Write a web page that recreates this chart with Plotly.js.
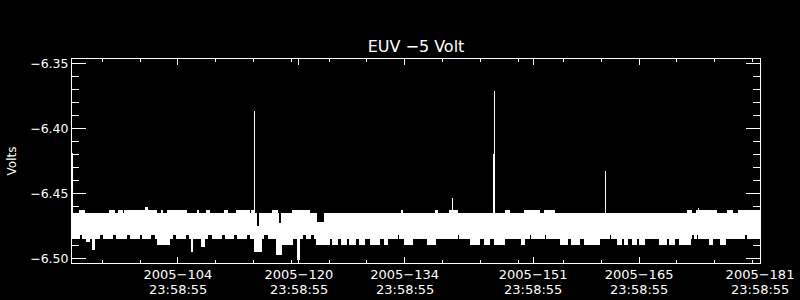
<!DOCTYPE html>
<html><head><meta charset="utf-8">
<script src="https://cdn.plot.ly/plotly-3.0.1.min.js"></script>
<style>html,body{margin:0;padding:0;background:#000;}#chart{width:800px;height:300px;}
#chart .scatterlayer path{shape-rendering:crispEdges;}</style>
</head><body><div id="chart"></div>
<script>
// ---- data (day-of-year 2005, fractional; volts) ----
const chartTitle = 'EUV \u22125 Volt';
const yTitle = 'Volts';
const xRange = ['2005-03-31 23:58:55', '2005-06-30 23:58:55'];
const xTickDates = ['2005-04-14 23:58:55', '2005-04-30 23:58:55', '2005-05-14 23:58:55',
                    '2005-05-31 23:58:55', '2005-06-14 23:58:55', '2005-06-30 23:58:55'];
const xTickDayText = ['2005\u2212104', '2005\u2212120', '2005\u2212134', '2005\u2212151', '2005\u2212165', '2005\u2212181'];
const xTickTimeText = ['23:58:55', '23:58:55', '23:58:55', '23:58:55', '23:58:55', '23:58:55'];
const xMinorDates = ['2005-04-05', '2005-04-10', '2005-04-15', '2005-04-20', '2005-04-25', '2005-04-30',
                     '2005-05-05', '2005-05-10', '2005-05-15', '2005-05-20', '2005-05-25', '2005-05-30',
                     '2005-06-05', '2005-06-10', '2005-06-15', '2005-06-20', '2005-06-25', '2005-06-30'];
const yRange = [-6.5033, -6.3464];
const yTickVals = [-6.50, -6.45, -6.40, -6.35];
const yTickText = ['\u22126.50', '\u22126.45', '\u22126.40', '\u22126.35'];

// upper envelope of the dense band (step: value holds until next day)
const upperDay = [91.00, 91.99, 92.65, 95.96, 96.63, 97.15, 97.68, 97.95, 100.73, 100.99,
  101.13, 102.18, 102.85, 102.98, 103.64, 106.16, 107.61, 107.74, 108.80, 109.20,
  111.19, 111.58, 112.77, 114.49, 114.76, 115.16, 115.42, 115.82, 117.54, 118.20,
  118.33, 118.73, 120.19, 122.44, 123.36, 124.42, 134.61, 134.75, 139.11, 139.31,
  140.97, 142.03, 148.38, 148.91, 150.89, 152.88, 153.54, 154.87, 172.47, 173.00,
  173.66, 176.31, 177.76, 178.42, 179.09, 182.00];
const upperVolt = [-6.4654, -6.4631, -6.4654, -6.4631, -6.4654, -6.4631, -6.4654, -6.4631, -6.4605, -6.4654,
  -6.4631, -6.4654, -6.4631, -6.4654, -6.4631, -6.4654, -6.4631, -6.4654, -6.4631, -6.4654,
  -6.4631, -6.4654, -6.4631, -6.4654, -6.4631, -6.4654, -6.4754, -6.4654, -6.4631, -6.4654,
  -6.4731, -6.4654, -6.4631, -6.4654, -6.4723, -6.4654, -6.4631, -6.4654, -6.4631, -6.4654,
  -6.4631, -6.4654, -6.4631, -6.4654, -6.4631, -6.4654, -6.4631, -6.4654, -6.4631, -6.4654,
  -6.4631, -6.4654, -6.4631, -6.4654, -6.4631, -6.4631];

// lower envelope of the dense band
const lowerDay = [91.00, 91.99, 92.39, 92.92, 93.32, 93.71, 93.98, 94.64, 95.17, 96.36,
  96.89, 98.21, 98.74, 99.93, 100.33, 101.39, 102.05, 102.32, 103.91, 104.30,
  104.83, 106.02, 106.55, 106.82, 106.95, 108.14, 108.54, 108.93, 109.60, 110.79,
  111.32, 112.38, 112.91, 114.10, 114.63, 115.16, 116.08, 116.35, 117.01, 118.07,
  118.73, 120.19, 120.85, 121.11, 121.51, 122.04, 122.57, 123.10, 123.36, 125.08,
  125.48, 126.14, 126.67, 127.33, 127.73, 128.52, 129.05, 129.72, 130.51, 131.70,
  132.36, 132.76, 134.08, 134.35, 135.01, 136.07, 138.05, 139.11, 142.03, 142.29,
  143.74, 144.94, 145.60, 146.26, 146.92, 148.25, 150.49, 150.89, 151.56, 151.82,
  153.54, 153.80, 155.66, 156.59, 157.12, 158.18, 158.84, 160.82, 162.14, 162.41,
  163.20, 163.73, 164.13, 164.53, 165.19, 165.72, 166.11, 166.78, 168.76, 169.69,
  170.08, 170.75, 171.41, 172.74, 173.00, 173.27, 173.66, 173.93, 174.99, 175.25,
  175.38, 175.65, 176.18, 176.44, 176.71, 177.50, 178.56, 178.82, 180.01, 180.28,
  181.47, 181.73, 182.00];
const lowerVolt = [-6.4846, -6.4815, -6.4846, -6.4867, -6.4846, -6.4931, -6.4846, -6.4815, -6.4846, -6.4815,
  -6.4846, -6.4815, -6.4846, -6.4815, -6.4846, -6.4815, -6.4846, -6.4892, -6.4846, -6.4815,
  -6.4846, -6.4815, -6.4846, -6.4944, -6.4846, -6.4905, -6.4846, -6.4815, -6.4846, -6.4815,
  -6.4846, -6.4815, -6.4846, -6.4815, -6.4846, -6.4944, -6.4846, -6.4815, -6.4846, -6.4969,
  -6.4892, -6.4846, -6.5008, -6.4846, -6.4815, -6.4846, -6.4815, -6.4846, -6.4892, -6.4846,
  -6.4892, -6.4846, -6.4892, -6.4846, -6.4892, -6.4846, -6.4892, -6.4846, -6.4892, -6.4846,
  -6.4892, -6.4846, -6.4815, -6.4846, -6.4892, -6.4846, -6.4892, -6.4846, -6.4815, -6.4846,
  -6.4892, -6.4846, -6.4892, -6.4846, -6.4892, -6.4846, -6.4892, -6.4846, -6.4815, -6.4846,
  -6.4815, -6.4846, -6.4892, -6.4846, -6.4892, -6.4846, -6.4892, -6.4846, -6.4815, -6.4846,
  -6.4892, -6.4846, -6.4892, -6.4846, -6.4892, -6.4846, -6.4892, -6.4846, -6.4892, -6.4846,
  -6.4892, -6.4846, -6.4892, -6.4846, -6.4815, -6.4846, -6.4815, -6.4846, -6.4815, -6.4846,
  -6.4892, -6.4846, -6.4815, -6.4846, -6.4892, -6.4846, -6.4815, -6.4846, -6.4815, -6.4846,
  -6.4815, -6.4846, -6.4846];

// isolated spikes above the band
const spikeDay  = [91.03, 115.20, 141.27, 146.70, 146.83, 161.52, 173.93];
const spikeVolt = [-6.4185, -6.3862, -6.4531, -6.4192, -6.3708, -6.4323, -6.4608];
const spikeBase = [-6.4654, -6.4654, -6.4654, -6.4654, -6.4654, -6.4654, -6.4654];

// ---- build ----
function doyToDate(d) {
  const ms = Date.UTC(2005, 0, 1) + (d - 1) * 86400000;
  return new Date(ms).toISOString().replace('T', ' ').replace('Z', '');
}
const sx = [], sy = [];
spikeDay.forEach((d, i) => { const t = doyToDate(d); sx.push(t, t, null); sy.push(spikeBase[i], spikeVolt[i], null); });

const W = '#ffffff';
const FONT = 'DejaVu Sans, Verdana, sans-serif';
const traces = [
  { x: lowerDay.map(doyToDate), y: lowerVolt, type: 'scatter', mode: 'lines',
    line: { color: W, width: 1, shape: 'hv' }, hoverinfo: 'skip', showlegend: false },
  { x: upperDay.map(doyToDate), y: upperVolt, type: 'scatter', mode: 'lines', fill: 'tonexty',
    fillcolor: W, line: { color: W, width: 1, shape: 'hv' }, hoverinfo: 'skip', showlegend: false },
  { x: sx, y: sy, type: 'scatter', mode: 'lines', connectgaps: false,
    line: { color: W, width: 1 }, hoverinfo: 'skip', showlegend: false }
];

// second line of each x tick label (time of day), placed under the date part
const timeLabels = xTickDates.map((d, i) => ({
  x: d, xref: 'x', y: 0, yref: 'paper', yanchor: 'middle', xanchor: 'center',
  yshift: -26.5, showarrow: false, borderpad: 0, text: xTickTimeText[i],
  font: { family: FONT, size: 13, color: W }
}));

const layout = {
  width: 800, height: 300,
  paper_bgcolor: '#000', plot_bgcolor: '#000',
  margin: { l: 72, r: 40, t: 59, b: 37, pad: 0 },
  showlegend: false,
  title: { text: chartTitle, font: { family: FONT, size: 16, color: W },
           x: 0.5, xref: 'paper', xanchor: 'center', y: 0.845, yref: 'container', yanchor: 'middle' },
  xaxis: {
    type: 'date', range: xRange, autorange: false,
    tickmode: 'array', tickvals: xTickDates, ticktext: xTickDayText,
    ticks: 'inside', ticklen: 6, tickwidth: 1, tickcolor: W,
    showline: true, linecolor: W, linewidth: 1, mirror: 'ticks',
    showgrid: false, zeroline: false, ticklabelstandoff: -1,
    tickfont: { family: FONT, size: 13, color: W },
    minor: { tickmode: 'array', tickvals: xMinorDates, ticks: 'inside', ticklen: 3, tickwidth: 1, tickcolor: W, showgrid: false }
  },
  yaxis: {
    range: yRange, autorange: false,
    tickmode: 'array', tickvals: yTickVals, ticktext: yTickText,
    ticks: 'inside', ticklen: 14, tickwidth: 1, tickcolor: W,
    showline: true, linecolor: W, linewidth: 1, mirror: 'ticks',
    showgrid: false, zeroline: false,
    tickfont: { family: FONT, size: 12.5, color: W },
    title: { text: yTitle, font: { family: FONT, size: 12, color: W }, standoff: 10 },
    minor: { dtick: 0.01, tick0: -6.5, ticks: 'inside', ticklen: 7, tickwidth: 1, tickcolor: W, showgrid: false }
  },
  annotations: timeLabels
};
Plotly.newPlot('chart', traces, layout, { staticPlot: true, displayModeBar: false });
</script>
</body></html>
